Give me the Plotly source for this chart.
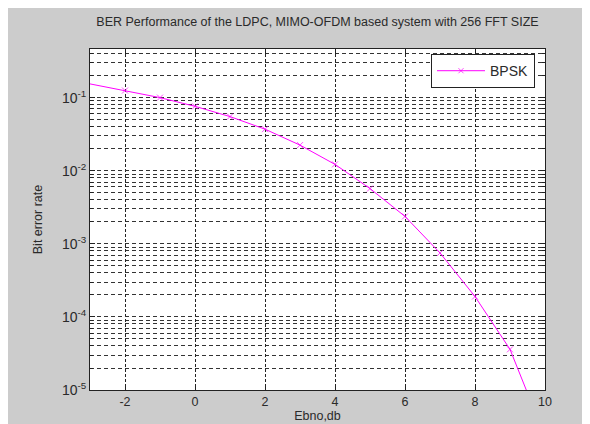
import plotly.graph_objects as go

ebno_db = [-3, -2, -1, 0, 1, 2, 3, 4, 5, 6, 7, 8, 9, 10]
ber_bpsk = [0.154, 0.125, 0.1, 0.076, 0.055, 0.037, 0.0224, 0.0122, 0.0057,
            0.00237, 0.00075, 0.00019, 0.000036, 0.0000023]
marker_sizes = [0] + [6] * 12 + [0]

x_ticks = [-2, 0, 2, 4, 6, 8, 10]
x_tick_text = ["-2", "0", "2", "4", "6", "8", "10"]
y_tick_vals = [1e-5, 1e-4, 1e-3, 1e-2, 1e-1]
y_tick_text = ["10<sup>-5</sup>", "10<sup>-4</sup>", "10<sup>-3</sup>",
               "10<sup>-2</sup>", "10<sup>-1</sup>"]

fig = go.Figure()
fig.add_trace(go.Scatter(
    x=ebno_db, y=ber_bpsk, mode="lines+markers", name="BPSK",
    line=dict(color="#ff00ff", width=1),
    marker=dict(symbol="x-thin", size=marker_sizes,
                line=dict(color="#ff00ff", width=1), color="#ff00ff"),
))

fig.update_layout(
    width=590, height=424,
    paper_bgcolor="#cccccc", plot_bgcolor="white",
    margin=dict(l=82, r=53, t=41, b=40),
    font=dict(family="Liberation Sans, Arial", size=11, color="#2a2a2a"),
    title=dict(text="BER Performance of the LDPC, MIMO-OFDM based system with 256 FFT SIZE",
               x=0.5, xref="paper", xanchor="center", y=1, yref="container", yanchor="top", pad=dict(t=9),
               font=dict(size=12.5, color="#2a2a2a")),
    showlegend=True,
    legend=dict(x=0.978, y=0.985, xanchor="right", yanchor="top",
                bgcolor="white", bordercolor="#222222", borderwidth=1,
                itemwidth=48, tracegroupgap=0,
                font=dict(size=14, color="#2a2a2a")),
)
fig.update_xaxes(
    range=[-3, 10], tickvals=x_ticks, ticktext=x_tick_text, ticks="inside", ticklen=5,
    tickcolor="#222222", showline=True, linecolor="#222222", linewidth=1,
    mirror="ticks", showgrid=True, gridcolor="#222222", griddash="3px,2px", gridwidth=1,
    zeroline=False, title=dict(text="Ebno,db", standoff=2, font=dict(size=12.5)),
    tickfont=dict(size=12.5),
)
fig.update_yaxes(
    type="log", range=[-5, -0.335], tickvals=y_tick_vals, ticktext=y_tick_text,
    ticks="inside", ticklen=5, tickcolor="#222222", showline=True,
    linecolor="#222222", linewidth=1, mirror="ticks",
    showgrid=True, gridcolor="#333333", griddash="4px,3px", gridwidth=1,
    minor=dict(dtick="D1", showgrid=True, gridcolor="#333333", griddash="4px,3px",
               gridwidth=1, ticks="inside", ticklen=3, tickcolor="#222222"),
    zeroline=False, title=dict(text="Bit error rate", standoff=16, font=dict(size=12.5)),
    tickfont=dict(size=14),
)

fig.write_html("out.html")
